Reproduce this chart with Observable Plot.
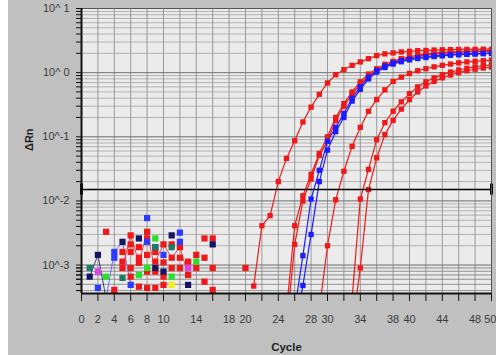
<!DOCTYPE html>
<html>
<head>
<meta charset="utf-8">
<script src="https://cdn.jsdelivr.net/npm/d3@7"></script>
<script src="https://cdn.jsdelivr.net/npm/@observablehq/plot@0.6"></script>
<style>
  html, body { margin: 0; padding: 0; background: #ffffff; }
  #wrap { padding-left: 8px; width: 488px; height: 355px; overflow: hidden; }
  svg { display: block; }
</style>
</head>
<body>
<div id="wrap"></div>
<script>
// ---- axis ticks and labels ----
const xTicks = [0,2,4,6,8,10,12,14,16,18,20,22,24,26,28,30,32,34,36,38,40,42,44,46,48,50];
const xLabels = [0,2,4,6,8,10,14,18,20,24,28,30,34,38,40,44,48];
const xLastLabel = [50];
const yDecades = [0.001, 0.01, 0.1, 1, 10];
const yDecadeLabels = ["10^-3", "10^-2", "10^-1", "10^ 0", "10^ 1"];
const yMinorMultipliers = [1,2,3,4,5,6,7,8,9];
const threshold = 0.015;

// ---- amplification curves (value per cycle, from start cycle) ----
const redAStart = 21;
const redA = [0.00047,0.0041,0.0059,0.020,0.046,0.087,0.17,0.29,0.46,0.69,0.93,1.11,1.30,1.47,1.65,1.84,1.96,2.03,2.10,2.15,2.20,2.22,2.25,2.27,2.28,2.30,2.30,2.31,2.32,2.32];
const redB1Start = 25;
const redB1 = [0.0002,0.0041,0.012,0.026,0.055,0.10,0.20,0.33,0.50,0.72,0.95,1.15,1.35,1.50,1.65,1.77,1.87,1.95,2.02,2.07,2.10,2.13,2.15,2.17,2.18,2.20];
const redB2Start = 25;
const redB2 = [0.0001,0.0021,0.010,0.022,0.051,0.085,0.18,0.30,0.46,0.66,0.88,1.08,1.27,1.43,1.58,1.70,1.80,1.88,1.95,2.00,2.04,2.08,2.10,2.12,2.14,2.15];
const blue1Start = 26;
const blue1 = [0.0001,0.00048,0.0030,0.020,0.062,0.12,0.20,0.36,0.55,0.80,1.02,1.20,1.36,1.48,1.58,1.66,1.72,1.78,1.83,1.87,1.90,1.93,1.95,1.97,1.99];
const blue2Start = 26;
const blue2 = [0.0002,0.0014,0.0107,0.030,0.085,0.14,0.23,0.40,0.60,0.85,1.08,1.27,1.42,1.54,1.63,1.71,1.77,1.83,1.87,1.91,1.94,1.96,1.98,2.00,2.02];
const redEStart = 29;
const redE = [0.0002,0.0020,0.0104,0.029,0.071,0.14,0.25,0.38,0.54,0.73,0.85,0.97,1.07,1.15,1.23,1.30,1.36,1.42,1.47,1.50,1.54,1.57];
const redGStart = 33;
const redG = [0.0001,0.0009,0.015,0.047,0.108,0.18,0.27,0.38,0.50,0.62,0.73,0.83,0.92,1.00,1.07,1.13,1.18,1.22];
const redHStart = 33;
const redH = [0.0003,0.0107,0.031,0.090,0.166,0.25,0.35,0.47,0.60,0.72,0.83,0.93,1.02,1.10,1.17,1.23,1.28,1.32];

// ---- baseline noise points [cycle, value] ----
const noiseRed = [[3,0.0033],[4,0.00041],[5,0.00113],[5,0.0009],[5,0.0016],[6,0.0029],[6,0.0021],[6,0.0016],[6,0.0009],[6,0.00066],[7,0.00046],[7,0.00108],[7,0.0013],[7,0.0019],[8,0.0033],[8,0.0026],[8,0.00144],[8,0.00079],[8,0.00044],[9,0.00113],[9,0.0016],[9,0.00079],[9,0.00044],[10,0.0021],[10,0.0011],[10,0.00066],[10,0.00049],[11,0.0021],[11,0.0013],[11,0.0009],[12,0.0019],[12,0.0013],[12,0.0009],[13,0.00113],[13,0.0007],[14,0.00144],[14,0.0009],[15,0.0026],[15,0.0013],[15,0.00055],[16,0.0026],[16,0.0009],[16,0.00041],[20,0.0009]];
const noiseBlue = [[2,0.00044],[4,0.0016],[4,0.0013],[6,0.00049],[8,0.0054],[8,0.0023],[9,0.0019],[10,0.00144],[12,0.0032],[12,0.0023]];
const noiseNavy = [[1,0.00066],[2,0.00144],[5,0.0023],[7,0.0026],[9,0.0009],[10,0.00079],[11,0.0029],[13,0.00049],[16,0.0021]];
const noiseGreen = [[3,0.00066],[7,0.0007],[8,0.0009],[9,0.0026],[11,0.00066],[14,0.00113]];
const noiseTeal = [[1,0.0009],[5,0.00063],[9,0.0019],[11,0.0019]];
const noiseMagenta = [[2,0.00079],[13,0.0009]];
const noiseYellow = [[11,0.00049]];
// a few baseline wells drawn as thin lines [cycle, value]
const noiseWellNavy = [[1,0.00066],[2,0.00144],[3,0.0003]];
const noiseWellBlue = [[3,0.0003],[4,0.0016],[5,0.0023],[6,0.00049]];
const noiseWellRed1 = [[5,0.0009],[6,0.0029],[7,0.00108],[8,0.0033],[9,0.00079]];
const noiseWellRed2 = [[9,0.00113],[10,0.0021],[11,0.0013],[12,0.0019],[13,0.0007]];

// ---- build tables ----
const RED = "#f01818", BLUE = "#1c1cff";
const curves = [
  {well: "A", color: RED, start: redAStart, values: redA},
  {well: "B1", color: RED, start: redB1Start, values: redB1},
  {well: "B2", color: RED, start: redB2Start, values: redB2},
  {well: "E", color: RED, start: redEStart, values: redE},
  {well: "G", color: RED, start: redGStart, values: redG},
  {well: "H", color: RED, start: redHStart, values: redH},
  {well: "C1", color: BLUE, start: blue1Start, values: blue1},
  {well: "C2", color: BLUE, start: blue2Start, values: blue2}
];
const curveRows = curves.flatMap(c => c.values.map((v, i) => ({cycle: c.start + i, value: v, well: c.well, color: c.color})));
const noiseSets = [
  [noiseRed, RED], [noiseBlue, "#2a3cff"], [noiseNavy, "#141464"], [noiseGreen, "#28e028"],
  [noiseTeal, "#1f7a66"], [noiseMagenta, "#e040e8"], [noiseYellow, "#f0f020"]
];
const noiseRows = noiseSets.flatMap(([pts, col]) => pts.map(([c, v]) => ({cycle: c, value: v, color: col})));
const noiseWells = [
  [noiseWellNavy, "#141464", "n1"], [noiseWellBlue, "#5050ff", "n2"],
  [noiseWellRed1, RED, "n3"], [noiseWellRed2, RED, "n4"]
];
const noiseLineRows = noiseWells.flatMap(([pts, col, w]) => pts.map(([c, v]) => ({cycle: c, value: v, color: col, well: w})));

const yMin = 3.6e-4, yMax = 10;
const yMinor = yDecades.flatMap(d => yMinorMultipliers.map(m => m * d / 10)).concat([0.0004,0.0005,0.0006,0.0007,0.0008,0.0009,10])
  .filter(v => v >= yMin && v <= yMax);
const labelMap = new Map(yDecades.map((d, i) => [d, yDecadeLabels[i]]));

const chart = Plot.plot({
  width: 488,
  height: 355,
  marginLeft: 73,
  marginRight: 5,
  marginTop: 8,
  marginBottom: 62,
  style: {background: "#c0c0c0", fontFamily: "'Liberation Sans', Arial, sans-serif", fontSize: "11px", color: "#3a3a3a"},
  x: {domain: [0, 50], label: null},
  y: {type: "log", domain: [yMin, yMax], label: null},
  color: {type: "identity"},
  marks: [
    Plot.frame({fill: "#ebebeb", stroke: null}),
    Plot.gridY(yMinor, {stroke: "#8c8c8c", strokeOpacity: 0.6}),
    Plot.gridX(xTicks, {stroke: "#7a7a7a", strokeOpacity: 0.7}),
    Plot.gridY(yDecades, {stroke: "#6a6a6a", strokeOpacity: 0.7}),
    Plot.line(noiseLineRows, {x: "cycle", y: "value", z: "well", stroke: "color", strokeWidth: 1, strokeOpacity: 0.8, clip: true}),
    Plot.dot(noiseRows, {x: "cycle", y: "value", fill: "color", symbol: "square", r: 3.5, clip: true}),
    Plot.line(curveRows, {x: "cycle", y: "value", z: "well", stroke: "color", strokeWidth: 1.2, clip: true}),
    Plot.dot(curveRows, {x: "cycle", y: "value", fill: "color", symbol: "square", r: 3, clip: true}),
    Plot.ruleY([threshold], {x1: 0, x2: 50, stroke: "#000", strokeWidth: 1.5}),
    Plot.ruleX([0, 50], {y1: threshold / 1.22, y2: threshold * 1.22, stroke: "#000", strokeWidth: 3}),
    Plot.frame({stroke: "#555", strokeWidth: 1}),
    Plot.ruleX([0], {stroke: "#111", strokeWidth: 2}),
    Plot.ruleY([yMin], {stroke: "#111", strokeWidth: 2}),
    Plot.axisY(yMinor, {tickSize: 5, tickFormat: () => "", stroke: "#111", label: null}),
    Plot.axisY(yDecades, {tickSize: 0, tickPadding: 12, tickFormat: d => labelMap.get(d), fontSize: 11, fill: "#3a3a3a", label: null}),
    Plot.axisX(xTicks, {tickSize: 8, tickFormat: () => "", stroke: "#111", label: null}),
    Plot.axisX(xLabels, {tickSize: 0, tickPadding: 22, fontSize: 11, fill: "#3a3a3a", label: null}),
    Plot.axisX(xLastLabel, {tickSize: 0, tickPadding: 22, fontSize: 11, fill: "#3a3a3a", label: null, textAnchor: "end", dx: 5}),
    Plot.text(["ΔRn"], {frameAnchor: "left", dx: -52, rotate: -90, fontWeight: "bold", fontSize: 11, fill: "#222"}),
    Plot.text(["Cycle"], {frameAnchor: "bottom", dy: 57, fontWeight: "bold", fontSize: 11.5, fill: "#222"})
  ]
});
document.getElementById("wrap").appendChild(chart);
</script>
</body>
</html>
